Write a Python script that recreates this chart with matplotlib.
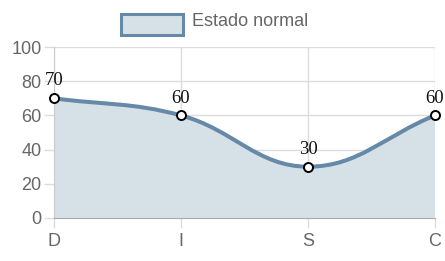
import numpy as np
import matplotlib.pyplot as plt
from matplotlib.path import Path
from matplotlib.patches import PathPatch, Rectangle

plt.switch_backend('agg')
plt.rcParams['font.family'] = ['Liberation Sans', 'DejaVu Sans']

categories = ['D', 'I', 'S', 'C']
values = [70, 60, 30, 60]
series_name = 'Estado normal'
y_ticks = [0, 20, 40, 60, 80, 100]

line_color = '#6689a8'
fill_color = '#d6e0e7'
grid_color = '#dcdcdc'
text_color = '#666666'


def smooth_path(xs, ys, sx, sy, tension=0.4):
    # bezier control points like chart.js, computed in pixel space
    px = np.array(xs, float) * sx
    py = np.array(ys, float) * sy
    n = len(px)
    verts = [(px[0], py[0])]
    codes = [Path.MOVETO]
    cps = []
    for i in range(n):
        p0 = i - 1 if i > 0 else i
        p2 = i + 1 if i < n - 1 else i
        d01 = np.hypot(px[i] - px[p0], py[i] - py[p0])
        d12 = np.hypot(px[p2] - px[i], py[p2] - py[i])
        tot = d01 + d12
        fa = tension * d01 / tot if tot else 0
        fb = tension * d12 / tot if tot else 0
        dx = px[p2] - px[p0]
        dy = py[p2] - py[p0]
        cps.append(((px[i] - fa * dx, py[i] - fa * dy),
                    (px[i] + fb * dx, py[i] + fb * dy)))
    for i in range(1, n):
        verts += [cps[i - 1][1], cps[i][0], (px[i], py[i])]
        codes += [Path.CURVE4] * 3
    verts = [(vx / sx, vy / sy) for vx, vy in verts]
    return verts, codes


fig = plt.figure(figsize=(4.45, 2.61), dpi=100)
ax = fig.add_axes([0.1213, 0.1648, 0.8562, 0.6551])

x = np.arange(len(categories))
verts, codes = smooth_path(x, values, 127, 1.71)

fill_verts = verts + [(x[-1], 0), (x[0], 0), verts[0]]
fill_codes = codes + [Path.LINETO, Path.LINETO, Path.CLOSEPOLY]
ax.add_patch(PathPatch(Path(fill_verts, fill_codes), facecolor=fill_color,
                       edgecolor='none', zorder=2))
ax.add_patch(PathPatch(Path(verts, codes), facecolor='none',
                       edgecolor=line_color, lw=2.9, zorder=3,
                       capstyle='round', joinstyle='round'))
ax.plot(x, values, 'o', ms=6.5, mfc='white', mec='black', mew=1.4,
        zorder=4, clip_on=False)

for xi, v in zip(x, values):
    ax.annotate(str(v), (xi, v), xytext=(0, 12.5), textcoords='offset points',
                ha='center', va='center', fontsize=13.5,
                family=['Liberation Serif', 'DejaVu Serif'],
                color='#111111', zorder=5)

ax.set_xlim(x[0], x[-1])
ax.set_ylim(0, 100)
ax.set_xticks(x)
ax.set_xticklabels(categories)
ax.set_yticks(y_ticks)
ax.grid(True, color=grid_color, lw=1, zorder=0)
ax.tick_params(colors=grid_color, labelcolor=text_color, labelsize=13,
               length=7, width=1, pad=2)
ax.tick_params(axis='x', pad=4)
for s in ['top', 'right']:
    ax.spines[s].set_visible(False)
ax.spines['left'].set_color('#cccccc')
ax.spines['bottom'].set_color('#aaaaaa')

# legend
fig.patches.append(Rectangle((121 / 445, 1 - 35 / 261), 62 / 445, 21 / 261,
                             transform=fig.transFigure, facecolor=fill_color,
                             edgecolor=line_color, lw=2.2))
fig.text(192 / 445, 1 - 22 / 261, series_name, ha='left', va='center',
         fontsize=13, color=text_color)

fig.savefig('out.png', dpi=100)
